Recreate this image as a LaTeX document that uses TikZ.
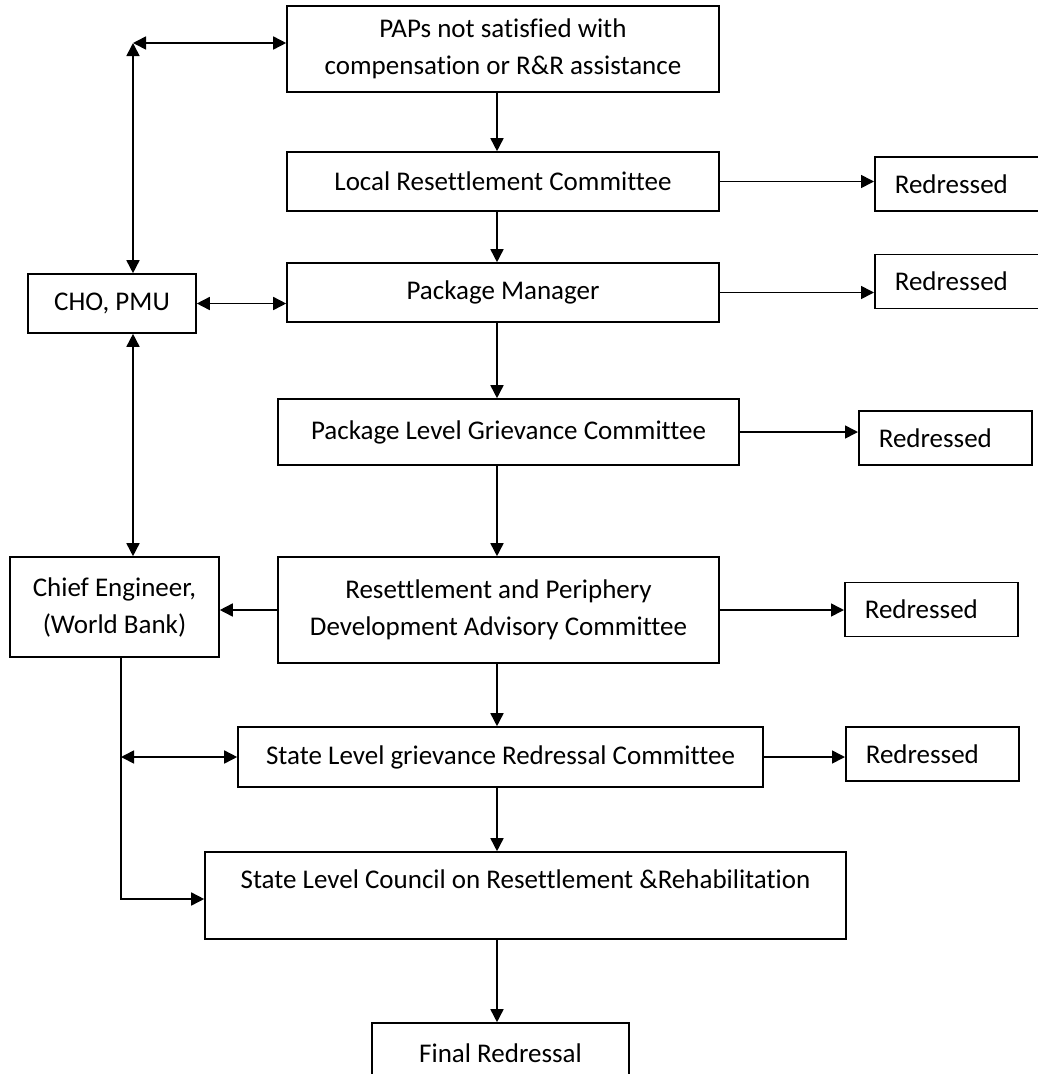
\documentclass[tikz,border=0pt]{standalone}
\usepackage{fontspec}
\setmainfont{Carlito}[Ligatures=NoCommon]
\usetikzlibrary{arrows.meta}

\begin{document}
\begin{tikzpicture}[x=1pt,y=-1pt,line width=1.6pt,
	>={Triangle[length=13pt,width=13pt]},
	box/.style={draw,rectangle,inner sep=0pt,align=center,font=\fontsize{27}{37}\selectfont},
	redbox/.style={draw,rectangle,anchor=west,text width=133pt,inner xsep=20pt,inner ysep=0pt,
		align=left,minimum height=54pt,font=\fontsize{27}{37}\selectfont}]

			\useasboundingbox (0,0) rectangle (1037,1074);

			\node [box,minimum width=432pt,minimum height=86pt] (paps) at (503,49) {PAPs not satisfied with\\compensation or R\&R assistance};
			\node [box,minimum width=432pt,minimum height=59pt] (lrc) at (503,181.5) {Local Resettlement Committee};
			\node [box,minimum width=432pt,minimum height=59pt] (pm) at (503,292.5) {Package Manager};
			\node [box,minimum width=461pt,minimum height=66pt] (plgc) at (508.5,432) {Package Level Grievance Committee};
			\node [box,minimum width=441pt,minimum height=106pt] (rpdac) at (498.5,610) {Resettlement and Periphery\\Development Advisory Committee};
			\node [box,minimum width=525pt,minimum height=60pt] (slgrc) at (500.5,757) {State Level grievance Redressal Committee};
			\node [box,minimum width=641pt,minimum height=87pt,text height=20pt,text depth=35pt] (slcrr) at (525.5,895.5) {State Level Council on Resettlement \&Rehabilitation};
			\node [box,minimum width=257pt,minimum height=60pt] (final) at (500.5,1053) {Final Redressal};

			\node [box,minimum width=168pt,minimum height=59pt] (cho) at (112,303.5) {CHO, PMU};
			\node [box,minimum width=209pt,minimum height=100pt] (chief) at (114.5,607) {Chief Engineer,\\(World Bank)};

			\node [redbox] (red1) at (874,184) {Redressed};
			\node [redbox] (red2) at (874,281.5) {Redressed};
			\node [redbox] (red3) at (858,438) {Redressed};
			\node [redbox] (red4) at (844,609.5) {Redressed};
			\node [redbox] (red5) at (845,754) {Redressed};

			\coordinate (spine) at (497,0);
			\coordinate (corner) at (133,43);
			\coordinate (bend) at (121,899);

			% main chain
			\draw [->] (paps.south -| spine) -- (lrc.north -| spine);
			\draw [->] (lrc.south -| spine) -- (pm.north -| spine);
			\draw [->] (pm.south -| spine) -- (plgc.north -| spine);
			\draw [->] (plgc.south -| spine) -- (rpdac.north -| spine);
			\draw [->] (rpdac.south -| spine) -- (slgrc.north -| spine);
			\draw [->] (slgrc.south -| spine) -- (slcrr.north -| spine);
			\draw [->] (slcrr.south -| spine) -- (final.north -| spine);

			% redressed
			\draw [->] (lrc.east) -- (lrc.east -| red1.west);
			\draw [->] (pm.east) -- (pm.east -| red2.west);
			\draw [->] (plgc.east) -- (plgc.east -| red3.west);
			\draw [->] (rpdac.east) -- (rpdac.east -| red4.west);
			\draw [->] (slgrc.east) -- (slgrc.east -| red5.west);

			% left side
			\draw [<->] (corner) -- (corner -| paps.west);
			\draw [<->] (corner) -- (corner |- cho.north);
			\draw [<->] (cho.east) -- (cho.east -| pm.west);
			\draw [<->] (corner |- cho.south) -- (corner |- chief.north);
			\draw [->] (rpdac.west) -- (rpdac.west -| chief.east);
			\draw [->] (bend |- chief.south) -- (bend) -- (bend -| slcrr.west);
			\draw [<->] (bend |- slgrc.west) -- (slgrc.west);
		\end{tikzpicture}
\end{document}
